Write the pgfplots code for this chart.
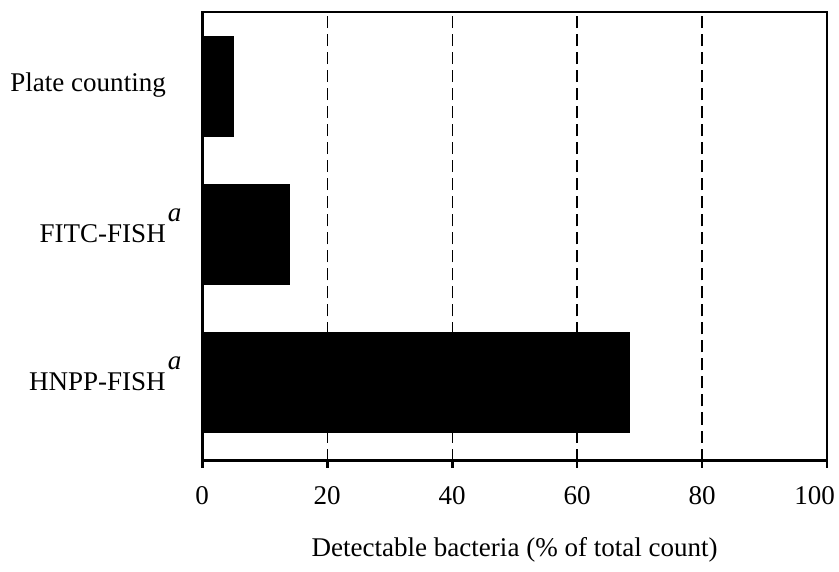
\documentclass[border=0pt]{standalone}
\usepackage{pgfplots}
\pgfplotsset{compat=1.18}
\usepackage{fontspec}
\setmainfont{Liberation Serif}
\newcommand{\supa}{\rlap{\kern1pt\smash{\raisebox{10.5pt}{\textit{a}}}}}
\begin{document}
\fontsize{13.5}{16}\selectfont
\begin{tikzpicture}
\begin{axis}[
  name=ax,
  scale only axis,
  width=312pt, height=224pt,
  xbar,
  bar width=0.68,
  xmin=0, xmax=100,
  ymin=-0.527, ymax=2.503,
  xtick={0,20,40,60,80,100},
  xticklabels={0,20,40,60,80,\hbox to 0pt{\hss 100\kern-4pt}},
  ytick={0,1,2},
  yticklabels={HNPP-FISH\supa, FITC-FISH\supa, Plate counting},
  axis line style={line width=1.4pt},
  tick align=outside,
  xtick pos=bottom,
  major tick length=3.5pt,
  xtick style={line width=1.4pt, black},
  ytick style={draw=none},
  xmajorgrids,
  major x grid style={dash pattern=on 6pt off 3pt, line width=0.6pt, black},
  /pgf/number format/assume math mode=true,
  x tick label style={font=\fontsize{13.5}{16}\selectfont, yshift=-5pt},
  y tick label style={font=\fontsize{13.5}{16}\selectfont, anchor=east, inner sep=0pt, xshift=-14.5pt, yshift=0.5pt},
  xlabel={Detectable bacteria (\% of total count)},
  xlabel style={font=\fontsize{13.5}{16}\selectfont, yshift=-7pt},
]
\addplot[fill=black, draw=black] coordinates {(68.4,0) (13.9,1) (5.0,2)};
\end{axis}
\path ([shift={(-101pt,-46pt)}]ax.south west) rectangle ([shift={(6pt,6pt)}]ax.north east);
\end{tikzpicture}
\end{document}
